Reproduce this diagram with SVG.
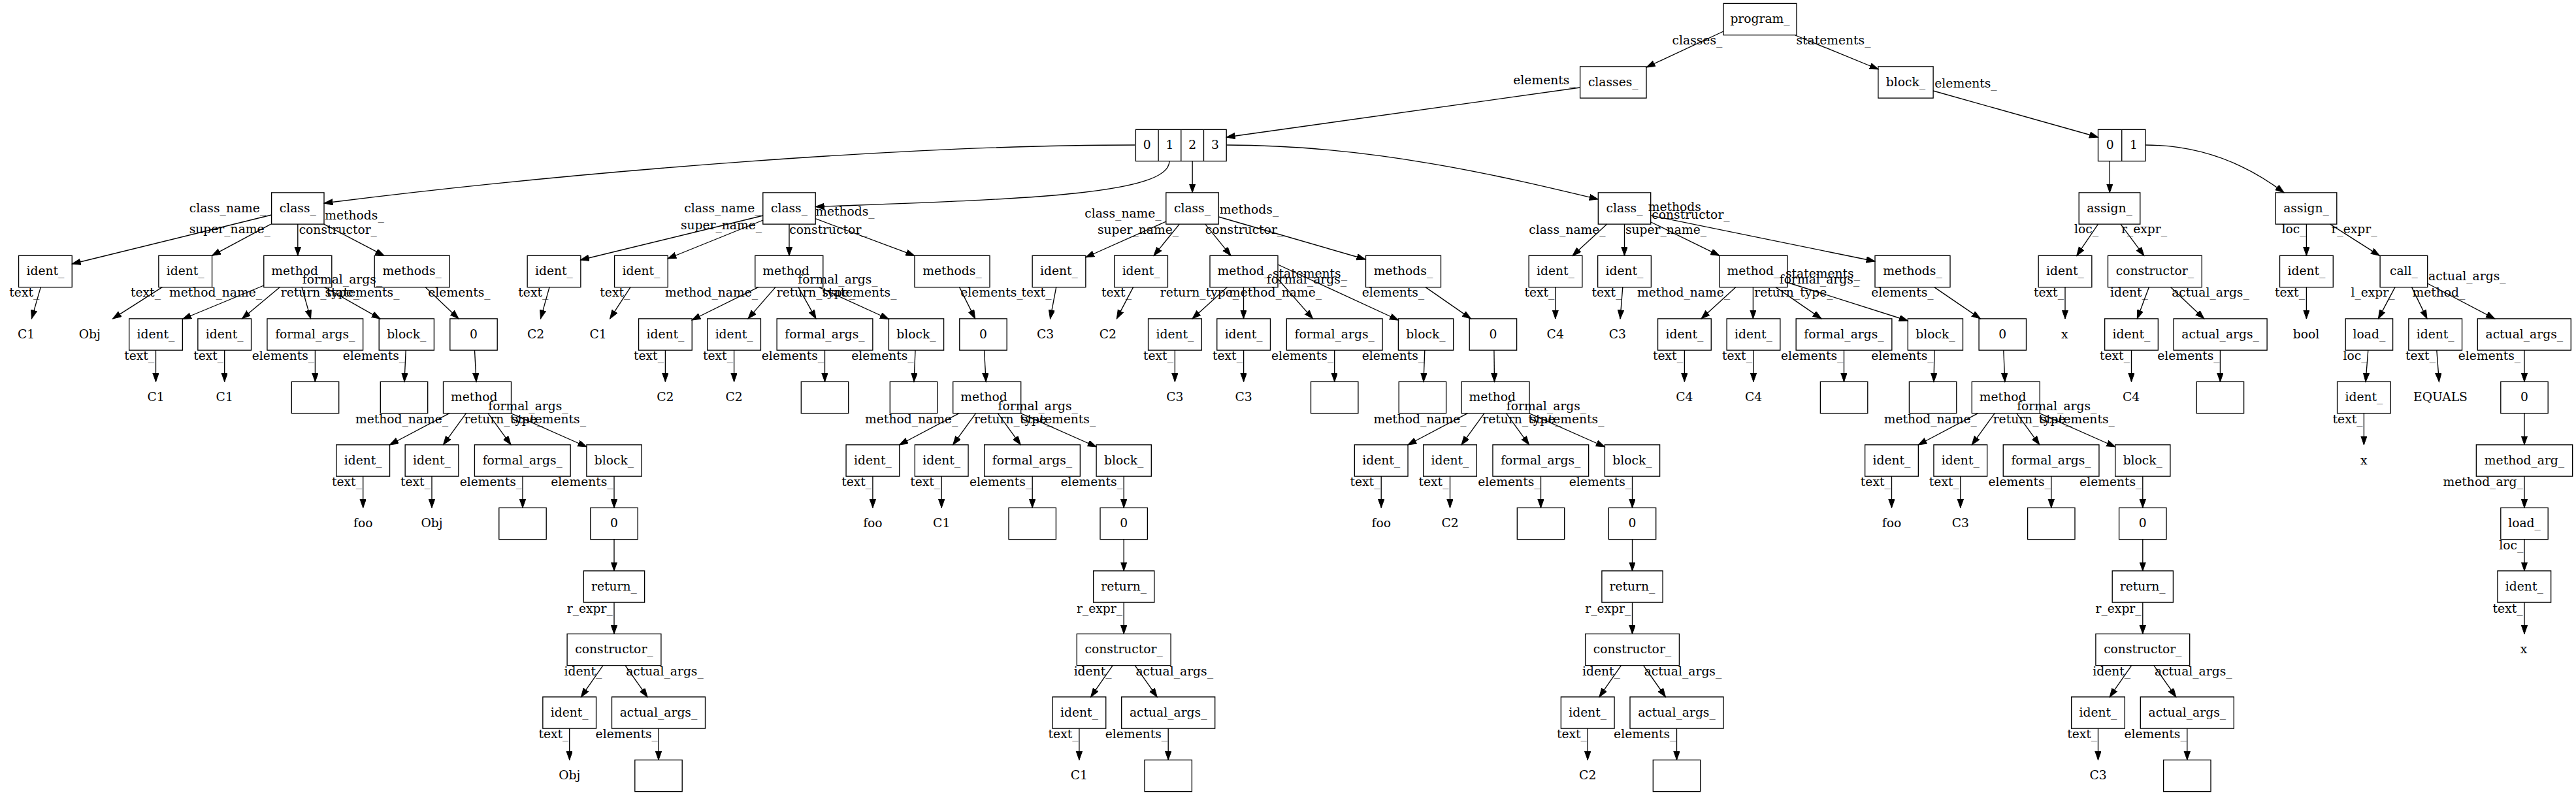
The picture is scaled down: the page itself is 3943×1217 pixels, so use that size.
<svg xmlns="http://www.w3.org/2000/svg" width="3943" height="1217" viewBox="0 0 3943 1217">
<defs>
<marker id="ah" markerUnits="userSpaceOnUse" markerWidth="15" markerHeight="11" refX="13.4" refY="4.7" orient="auto"><path d="M0,0 L13.4,4.7 L0,9.4 z" fill="#000" stroke="#000" stroke-width="1"/></marker>
<style>
.n rect{fill:#fff;stroke:#000;stroke-width:1.34}
.n line{stroke:#000;stroke-width:1.34}
text{font-family:"DejaVu Serif","Liberation Serif",serif;font-size:18.7px;text-anchor:middle;fill:#000}
#edges path{fill:none;stroke:#000;stroke-width:1.34;marker-end:url(#ah)}
</style>
</defs>
<rect x="0" y="0" width="3943" height="1217" fill="#fff"/>
<!-- top nodes -->
<g id="program" class="n"><rect x="2638" y="5.38" width="112" height="48.25"/><text x="2694" y="35">program_</text></g>
<g id="classes" class="n"><rect x="2418.6" y="101.88" width="101.4" height="48.25"/><text x="2469.3" y="131.5">classes_</text></g>
<g id="block_main" class="n"><rect x="2874.9" y="101.88" width="84.2" height="48.25"/><text x="2917" y="131.5">block_</text></g>
<g id="classes_arr" class="n"><rect x="1738.4" y="198.38" width="138.8" height="48.25"/><line x1="1773.1" y1="198.38" x2="1773.1" y2="246.63"/><line x1="1807.8" y1="198.38" x2="1807.8" y2="246.63"/><line x1="1842.5" y1="198.38" x2="1842.5" y2="246.63"/><text x="1755.75" y="228">0</text><text x="1790.45" y="228">1</text><text x="1825.15" y="228">2</text><text x="1859.85" y="228">3</text></g>
<g id="stmts_arr" class="n"><rect x="3211.5" y="198.38" width="72.5" height="48.25"/><line x1="3247.75" y1="198.38" x2="3247.75" y2="246.63"/><text x="3229.6" y="228">0</text><text x="3265.9" y="228">1</text></g>
<!-- C1 -->
<g id="c1_class" class="n"><rect x="415.6" y="294.88" width="80.4" height="48.25"/><text x="455.8" y="324.5">class_</text></g>
<g id="c1_ident_cn" class="n"><rect x="28.55" y="391.38" width="81.7" height="48.25"/><text x="69.4" y="421">ident_</text></g>
<g id="c1_ident_sn" class="n"><rect x="242.85" y="391.38" width="81.7" height="48.25"/><text x="283.7" y="421">ident_</text></g>
<g id="c1_ctor" class="n"><rect x="403.8" y="391.38" width="104" height="48.25"/><text x="455.8" y="421">method_</text></g>
<g id="c1_methods" class="n"><rect x="573.2" y="391.38" width="115" height="48.25"/><text x="630.7" y="421">methods_</text></g>
<g id="c1_t_cn"><text x="40" y="517.5">C1</text></g>
<g id="c1_t_sn"><text x="137.3" y="517.5">Obj</text></g>
<g id="c1_ct_mn" class="n"><rect x="197.65" y="487.88" width="81.7" height="48.25"/><text x="238.5" y="517.5">ident_</text></g>
<g id="c1_ct_rt" class="n"><rect x="302.85" y="487.88" width="81.7" height="48.25"/><text x="343.7" y="517.5">ident_</text></g>
<g id="c1_ct_fa" class="n"><rect x="408.95" y="487.88" width="146.7" height="48.25"/><text x="482.3" y="517.5">formal_args_</text></g>
<g id="c1_ct_bl" class="n"><rect x="580.2" y="487.88" width="84.2" height="48.25"/><text x="622.3" y="517.5">block_</text></g>
<g id="c1_ms_arr" class="n"><rect x="688.8" y="487.88" width="72.4" height="48.25"/><text x="725" y="517.5">0</text></g>
<g id="c1_ct_mn_t"><text x="238.5" y="614">C1</text></g>
<g id="c1_ct_rt_t"><text x="343.7" y="614">C1</text></g>
<g id="c1_ct_fa_arr" class="n"><rect x="446.3" y="584.38" width="72.4" height="48.25"/></g>
<g id="c1_ct_bl_arr" class="n"><rect x="582.3" y="584.38" width="72.4" height="48.25"/></g>
<g id="c1_m" class="n"><rect x="678.5" y="584.38" width="104" height="48.25"/><text x="730.5" y="614">method_</text></g>
<g id="c1_m_mn" class="n"><rect x="514.85" y="680.88" width="81.7" height="48.25"/><text x="555.7" y="710.5">ident_</text></g>
<g id="c1_m_rt" class="n"><rect x="620.15" y="680.88" width="81.7" height="48.25"/><text x="661" y="710.5">ident_</text></g>
<g id="c1_m_fa" class="n"><rect x="726.45" y="680.88" width="146.7" height="48.25"/><text x="799.8" y="710.5">formal_args_</text></g>
<g id="c1_m_bl" class="n"><rect x="897.9" y="680.88" width="84.2" height="48.25"/><text x="940" y="710.5">block_</text></g>
<g id="c1_m_foo"><text x="555.7" y="807">foo</text></g>
<g id="c1_m_rt_t"><text x="661" y="807">Obj</text></g>
<g id="c1_m_fa_arr" class="n"><rect x="763.8" y="777.38" width="72.4" height="48.25"/></g>
<g id="c1_m_bl_arr" class="n"><rect x="903.8" y="777.38" width="72.4" height="48.25"/><text x="940" y="807">0</text></g>
<g id="c1_m_ret" class="n"><rect x="893.4" y="873.88" width="93.2" height="48.25"/><text x="940" y="903.5">return_</text></g>
<g id="c1_m_ctor" class="n"><rect x="868.1" y="970.38" width="143.8" height="48.25"/><text x="940" y="1000">constructor_</text></g>
<g id="c1_m_cid" class="n"><rect x="830.85" y="1066.88" width="81.7" height="48.25"/><text x="871.7" y="1096.5">ident_</text></g>
<g id="c1_m_cargs" class="n"><rect x="936.5" y="1066.88" width="143" height="48.25"/><text x="1008" y="1096.5">actual_args_</text></g>
<g id="c1_m_cid_t"><text x="871.7" y="1193">Obj</text></g>
<g id="c1_m_cargs_arr" class="n"><rect x="971.8" y="1163.38" width="72.4" height="48.25"/></g>
<!-- C2 -->
<g id="c2_class" class="n"><rect x="1167.8" y="294.88" width="80.4" height="48.25"/><text x="1208" y="324.5">class_</text></g>
<g id="c2_ident_cn" class="n"><rect x="807.15" y="391.38" width="81.7" height="48.25"/><text x="848" y="421">ident_</text></g>
<g id="c2_ident_sn" class="n"><rect x="940.55" y="391.38" width="81.7" height="48.25"/><text x="981.4" y="421">ident_</text></g>
<g id="c2_ctor" class="n"><rect x="1155.8" y="391.38" width="104" height="48.25"/><text x="1207.8" y="421">method_</text></g>
<g id="c2_methods" class="n"><rect x="1400" y="391.38" width="115" height="48.25"/><text x="1457.5" y="421">methods_</text></g>
<g id="c2_t_cn"><text x="820" y="517.5">C2</text></g>
<g id="c2_t_sn"><text x="915.5" y="517.5">C1</text></g>
<g id="c2_ct_mn" class="n"><rect x="977.55" y="487.88" width="81.7" height="48.25"/><text x="1018.4" y="517.5">ident_</text></g>
<g id="c2_ct_rt" class="n"><rect x="1082.75" y="487.88" width="81.7" height="48.25"/><text x="1123.6" y="517.5">ident_</text></g>
<g id="c2_ct_fa" class="n"><rect x="1189.15" y="487.88" width="146.7" height="48.25"/><text x="1262.5" y="517.5">formal_args_</text></g>
<g id="c2_ct_bl" class="n"><rect x="1360.4" y="487.88" width="84.2" height="48.25"/><text x="1402.5" y="517.5">block_</text></g>
<g id="c2_ms_arr" class="n"><rect x="1468.8" y="487.88" width="72.4" height="48.25"/><text x="1505" y="517.5">0</text></g>
<g id="c2_ct_mn_t"><text x="1018.4" y="614">C2</text></g>
<g id="c2_ct_rt_t"><text x="1123.6" y="614">C2</text></g>
<g id="c2_ct_fa_arr" class="n"><rect x="1226.3" y="584.38" width="72.4" height="48.25"/></g>
<g id="c2_ct_bl_arr" class="n"><rect x="1362.3" y="584.38" width="72.4" height="48.25"/></g>
<g id="c2_m" class="n"><rect x="1458.7" y="584.38" width="104" height="48.25"/><text x="1510.7" y="614">method_</text></g>
<g id="c2_m_mn" class="n"><rect x="1295.05" y="680.88" width="81.7" height="48.25"/><text x="1335.9" y="710.5">ident_</text></g>
<g id="c2_m_rt" class="n"><rect x="1400.35" y="680.88" width="81.7" height="48.25"/><text x="1441.2" y="710.5">ident_</text></g>
<g id="c2_m_fa" class="n"><rect x="1506.65" y="680.88" width="146.7" height="48.25"/><text x="1580" y="710.5">formal_args_</text></g>
<g id="c2_m_bl" class="n"><rect x="1678.1" y="680.88" width="84.2" height="48.25"/><text x="1720.2" y="710.5">block_</text></g>
<g id="c2_m_foo"><text x="1335.9" y="807">foo</text></g>
<g id="c2_m_rt_t"><text x="1441.2" y="807">C1</text></g>
<g id="c2_m_fa_arr" class="n"><rect x="1544" y="777.38" width="72.4" height="48.25"/></g>
<g id="c2_m_bl_arr" class="n"><rect x="1684" y="777.38" width="72.4" height="48.25"/><text x="1720.2" y="807">0</text></g>
<g id="c2_m_ret" class="n"><rect x="1673.6" y="873.88" width="93.2" height="48.25"/><text x="1720.2" y="903.5">return_</text></g>
<g id="c2_m_ctor" class="n"><rect x="1648.3" y="970.38" width="143.8" height="48.25"/><text x="1720.2" y="1000">constructor_</text></g>
<g id="c2_m_cid" class="n"><rect x="1611.05" y="1066.88" width="81.7" height="48.25"/><text x="1651.9" y="1096.5">ident_</text></g>
<g id="c2_m_cargs" class="n"><rect x="1716.7" y="1066.88" width="143" height="48.25"/><text x="1788.2" y="1096.5">actual_args_</text></g>
<g id="c2_m_cid_t"><text x="1651.9" y="1193">C1</text></g>
<g id="c2_m_cargs_arr" class="n"><rect x="1752" y="1163.38" width="72.4" height="48.25"/></g>
<!-- C3 -->
<g id="c3_class" class="n"><rect x="1784.8" y="294.88" width="80.4" height="48.25"/><text x="1825" y="324.5">class_</text></g>
<g id="c3_ident_cn" class="n"><rect x="1580.15" y="391.38" width="81.7" height="48.25"/><text x="1621" y="421">ident_</text></g>
<g id="c3_ident_sn" class="n"><rect x="1705.75" y="391.38" width="81.7" height="48.25"/><text x="1746.6" y="421">ident_</text></g>
<g id="c3_ctor" class="n"><rect x="1852" y="391.38" width="104" height="48.25"/><text x="1904" y="421">method_</text></g>
<g id="c3_methods" class="n"><rect x="2090.5" y="391.38" width="115" height="48.25"/><text x="2148" y="421">methods_</text></g>
<g id="c3_t_cn"><text x="1600" y="517.5">C3</text></g>
<g id="c3_t_sn"><text x="1695.8" y="517.5">C2</text></g>
<g id="c3_ct_rt" class="n"><rect x="1757.55" y="487.88" width="81.7" height="48.25"/><text x="1798.4" y="517.5">ident_</text></g>
<g id="c3_ct_mn" class="n"><rect x="1862.75" y="487.88" width="81.7" height="48.25"/><text x="1903.6" y="517.5">ident_</text></g>
<g id="c3_ct_fa" class="n"><rect x="1969.35" y="487.88" width="146.7" height="48.25"/><text x="2042.7" y="517.5">formal_args_</text></g>
<g id="c3_ct_bl" class="n"><rect x="2140.4" y="487.88" width="84.2" height="48.25"/><text x="2182.5" y="517.5">block_</text></g>
<g id="c3_ms_arr" class="n"><rect x="2249.2" y="487.88" width="72.4" height="48.25"/><text x="2285.4" y="517.5">0</text></g>
<g id="c3_ct_rt_t"><text x="1798.4" y="614">C3</text></g>
<g id="c3_ct_mn_t"><text x="1903.6" y="614">C3</text></g>
<g id="c3_ct_fa_arr" class="n"><rect x="2006.5" y="584.38" width="72.4" height="48.25"/></g>
<g id="c3_ct_bl_arr" class="n"><rect x="2141.2" y="584.38" width="72.4" height="48.25"/></g>
<g id="c3_m" class="n"><rect x="2237" y="584.38" width="104" height="48.25"/><text x="2289" y="614">method_</text></g>
<g id="c3_m_mn" class="n"><rect x="2073.35" y="680.88" width="81.7" height="48.25"/><text x="2114.2" y="710.5">ident_</text></g>
<g id="c3_m_rt" class="n"><rect x="2178.65" y="680.88" width="81.7" height="48.25"/><text x="2219.5" y="710.5">ident_</text></g>
<g id="c3_m_fa" class="n"><rect x="2284.95" y="680.88" width="146.7" height="48.25"/><text x="2358.3" y="710.5">formal_args_</text></g>
<g id="c3_m_bl" class="n"><rect x="2456.4" y="680.88" width="84.2" height="48.25"/><text x="2498.5" y="710.5">block_</text></g>
<g id="c3_m_foo"><text x="2114.2" y="807">foo</text></g>
<g id="c3_m_rt_t"><text x="2219.5" y="807">C2</text></g>
<g id="c3_m_fa_arr" class="n"><rect x="2322.3" y="777.38" width="72.4" height="48.25"/></g>
<g id="c3_m_bl_arr" class="n"><rect x="2462.3" y="777.38" width="72.4" height="48.25"/><text x="2498.5" y="807">0</text></g>
<g id="c3_m_ret" class="n"><rect x="2451.9" y="873.88" width="93.2" height="48.25"/><text x="2498.5" y="903.5">return_</text></g>
<g id="c3_m_ctor" class="n"><rect x="2426.6" y="970.38" width="143.8" height="48.25"/><text x="2498.5" y="1000">constructor_</text></g>
<g id="c3_m_cid" class="n"><rect x="2389.35" y="1066.88" width="81.7" height="48.25"/><text x="2430.2" y="1096.5">ident_</text></g>
<g id="c3_m_cargs" class="n"><rect x="2495" y="1066.88" width="143" height="48.25"/><text x="2566.5" y="1096.5">actual_args_</text></g>
<g id="c3_m_cid_t"><text x="2430.2" y="1193">C2</text></g>
<g id="c3_m_cargs_arr" class="n"><rect x="2530.3" y="1163.38" width="72.4" height="48.25"/></g>
<!-- C4 -->
<g id="c4_class" class="n"><rect x="2446.3" y="294.88" width="80.4" height="48.25"/><text x="2486.5" y="324.5">class_</text></g>
<g id="c4_ident_cn" class="n"><rect x="2340.15" y="391.38" width="81.7" height="48.25"/><text x="2381" y="421">ident_</text></g>
<g id="c4_ident_sn" class="n"><rect x="2445.65" y="391.38" width="81.7" height="48.25"/><text x="2486.5" y="421">ident_</text></g>
<g id="c4_ctor" class="n"><rect x="2632" y="391.38" width="104" height="48.25"/><text x="2684" y="421">method_</text></g>
<g id="c4_methods" class="n"><rect x="2870" y="391.38" width="115" height="48.25"/><text x="2927.5" y="421">methods_</text></g>
<g id="c4_t_cn"><text x="2380.7" y="517.5">C4</text></g>
<g id="c4_t_sn"><text x="2475.8" y="517.5">C3</text></g>
<g id="c4_ct_mn" class="n"><rect x="2537.55" y="487.88" width="81.7" height="48.25"/><text x="2578.4" y="517.5">ident_</text></g>
<g id="c4_ct_rt" class="n"><rect x="2643.15" y="487.88" width="81.7" height="48.25"/><text x="2684" y="517.5">ident_</text></g>
<g id="c4_ct_fa" class="n"><rect x="2749.15" y="487.88" width="146.7" height="48.25"/><text x="2822.5" y="517.5">formal_args_</text></g>
<g id="c4_ct_bl" class="n"><rect x="2920.3" y="487.88" width="84.2" height="48.25"/><text x="2962.4" y="517.5">block_</text></g>
<g id="c4_ms_arr" class="n"><rect x="3029.1" y="487.88" width="72.4" height="48.25"/><text x="3065.3" y="517.5">0</text></g>
<g id="c4_ct_mn_t"><text x="2578.4" y="614">C4</text></g>
<g id="c4_ct_rt_t"><text x="2684" y="614">C4</text></g>
<g id="c4_ct_fa_arr" class="n"><rect x="2786.4" y="584.38" width="72.4" height="48.25"/></g>
<g id="c4_ct_bl_arr" class="n"><rect x="2922.4" y="584.38" width="72.4" height="48.25"/></g>
<g id="c4_m" class="n"><rect x="3018.3" y="584.38" width="104" height="48.25"/><text x="3070.3" y="614">method_</text></g>
<g id="c4_m_mn" class="n"><rect x="2854.65" y="680.88" width="81.7" height="48.25"/><text x="2895.5" y="710.5">ident_</text></g>
<g id="c4_m_rt" class="n"><rect x="2959.95" y="680.88" width="81.7" height="48.25"/><text x="3000.8" y="710.5">ident_</text></g>
<g id="c4_m_fa" class="n"><rect x="3066.25" y="680.88" width="146.7" height="48.25"/><text x="3139.6" y="710.5">formal_args_</text></g>
<g id="c4_m_bl" class="n"><rect x="3237.7" y="680.88" width="84.2" height="48.25"/><text x="3279.8" y="710.5">block_</text></g>
<g id="c4_m_foo"><text x="2895.5" y="807">foo</text></g>
<g id="c4_m_rt_t"><text x="3000.8" y="807">C3</text></g>
<g id="c4_m_fa_arr" class="n"><rect x="3103.6" y="777.38" width="72.4" height="48.25"/></g>
<g id="c4_m_bl_arr" class="n"><rect x="3243.6" y="777.38" width="72.4" height="48.25"/><text x="3279.8" y="807">0</text></g>
<g id="c4_m_ret" class="n"><rect x="3233.2" y="873.88" width="93.2" height="48.25"/><text x="3279.8" y="903.5">return_</text></g>
<g id="c4_m_ctor" class="n"><rect x="3207.9" y="970.38" width="143.8" height="48.25"/><text x="3279.8" y="1000">constructor_</text></g>
<g id="c4_m_cid" class="n"><rect x="3170.65" y="1066.88" width="81.7" height="48.25"/><text x="3211.5" y="1096.5">ident_</text></g>
<g id="c4_m_cargs" class="n"><rect x="3276.3" y="1066.88" width="143" height="48.25"/><text x="3347.8" y="1096.5">actual_args_</text></g>
<g id="c4_m_cid_t"><text x="3211.5" y="1193">C3</text></g>
<g id="c4_m_cargs_arr" class="n"><rect x="3311.6" y="1163.38" width="72.4" height="48.25"/></g>
<!-- statements side -->
<g id="assign1" class="n"><rect x="3182.2" y="294.88" width="93.6" height="48.25"/><text x="3229" y="324.5">assign_</text></g>
<g id="assign2" class="n"><rect x="3483.2" y="294.88" width="93.6" height="48.25"/><text x="3530" y="324.5">assign_</text></g>
<g id="a1_ident" class="n"><rect x="3120.15" y="391.38" width="81.7" height="48.25"/><text x="3161" y="421">ident_</text></g>
<g id="a1_ctor" class="n"><rect x="3226.5" y="391.38" width="143.8" height="48.25"/><text x="3298.4" y="421">constructor_</text></g>
<g id="a1_x"><text x="3160.2" y="517.5">x</text></g>
<g id="a1_ctor_ident" class="n"><rect x="3221.65" y="487.88" width="81.7" height="48.25"/><text x="3262.5" y="517.5">ident_</text></g>
<g id="a1_ctor_args" class="n"><rect x="3327.1" y="487.88" width="143" height="48.25"/><text x="3398.6" y="517.5">actual_args_</text></g>
<g id="a1_C4"><text x="3262" y="614">C4</text></g>
<g id="a1_args_arr" class="n"><rect x="3362.2" y="584.38" width="72.4" height="48.25"/></g>
<g id="a2_ident" class="n"><rect x="3489.55" y="391.38" width="81.7" height="48.25"/><text x="3530.4" y="421">ident_</text></g>
<g id="a2_call" class="n"><rect x="3643.1" y="391.38" width="72.6" height="48.25"/><text x="3679.4" y="421">call_</text></g>
<g id="a2_bool"><text x="3530" y="517.5">bool</text></g>
<g id="a2_load" class="n"><rect x="3590.2" y="487.88" width="72.4" height="48.25"/><text x="3626.4" y="517.5">load_</text></g>
<g id="a2_mident" class="n"><rect x="3686.85" y="487.88" width="81.7" height="48.25"/><text x="3727.7" y="517.5">ident_</text></g>
<g id="a2_args" class="n"><rect x="3792.3" y="487.88" width="143" height="48.25"/><text x="3863.8" y="517.5">actual_args_</text></g>
<g id="a2_load_ident" class="n"><rect x="3577.55" y="584.38" width="81.7" height="48.25"/><text x="3618.4" y="614">ident_</text></g>
<g id="a2_equals"><text x="3735.5" y="614">EQUALS</text></g>
<g id="a2_args_arr" class="n"><rect x="3827.8" y="584.38" width="72.4" height="48.25"/><text x="3864" y="614">0</text></g>
<g id="a2_x1"><text x="3618.2" y="710.5">x</text></g>
<g id="a2_marg" class="n"><rect x="3790.35" y="680.88" width="147.3" height="48.25"/><text x="3864" y="710.5">method_arg_</text></g>
<g id="a2_load2" class="n"><rect x="3827.8" y="777.38" width="72.4" height="48.25"/><text x="3864" y="807">load_</text></g>
<g id="a2_ident2" class="n"><rect x="3822.95" y="873.88" width="81.7" height="48.25"/><text x="3863.8" y="903.5">ident_</text></g>
<g id="a2_x2"><text x="3863" y="1000">x</text></g>
<g id="edges">
<!-- top -->
<path d="M2638,48 L2520,103"/><text x="2598" y="68">classes_</text>
<path d="M2748,54 L2875,106"/><text x="2806.5" y="68">statements_</text>
<path d="M2418.6,134 L1877.2,210"/><text x="2364" y="129.3">elements_</text>
<path d="M2959,139 L3211.5,210"/><text x="3009" y="134">elements_</text>
<path d="M1737,222 C1400,222 900,260 496,311"/>
<path d="M1790,246.6 C1790,300 1550,305 1248.2,316.5"/>
<path d="M1825.15,246.6 L1825.15,294.9"/>
<path d="M1877.2,222 C2100,222 2300,270 2446,305"/>
<path d="M3229.3,246.6 L3229.3,294.9"/>
<path d="M3284,222 C3380,222 3450,260 3496,294.9"/>
<!-- C1 class level -->
<path d="M415.6,329 L110.3,404"/><text x="348.5" y="325.3">class_name_</text>
<path d="M414.6,343.1 L324.5,391.4"/><text x="351.8" y="357">super_name_</text>
<path d="M455.8,343.1 L455.8,391.4"/><text x="517.3" y="358">constructor_</text>
<path d="M495.8,343.1 L588,391.4"/><text x="542.5" y="335.8">methods_</text>
<path d="M62.3,439.6 L48.4,487.9"/><text x="37.3" y="454.2">text_</text>
<path d="M248.3,439.6 L172.6,487.9"/><text x="223" y="454.2">text_</text>
<path d="M403.8,437 L279.5,488.5"/><text x="330" y="454.2">method_name_</text>
<path d="M428.5,439.6 L370.4,487.9"/><text x="490" y="454.2">return_type_</text>
<path d="M462,439.6 L475.6,487.9"/><text x="524" y="434">formal_args_</text>
<path d="M496.6,439.6 L582,487.9"/><text x="554.5" y="454.2">statements_</text>
<path d="M651,439.6 L702,487.9"/><text x="703" y="454.2">elements_</text>
<path d="M238.5,536.1 L238.5,584.4"/><text x="213.2" y="551">text_</text>
<path d="M343.7,536.1 L343.7,584.4"/><text x="319.2" y="551">text_</text>
<path d="M482.4,536.1 L482.4,584.4"/><text x="433.5" y="551">elements_</text>
<path d="M621.2,536.1 L619,584.4"/><text x="572.5" y="551">elements_</text>
<!-- C2 class level -->
<path d="M1168,330 L888.5,398"/><text x="1106" y="325.3">class_name_</text>
<path d="M1168,337 L1022,396"/><text x="1104" y="351.3">super_name_</text>
<path d="M1208,343.1 L1208,391.4"/><text x="1268" y="358">constructor_</text>
<path d="M1248,334.7 L1400,391.4"/><text x="1293.4" y="330">methods_</text>
<path d="M841,439.6 L827.5,487.9"/><text x="816.3" y="454.2">text_</text>
<path d="M965,439.6 L933.6,487.9"/><text x="941.3" y="454.2">text_</text>
<path d="M1160.8,439.6 L1059,490"/><text x="1089" y="454.2">method_name_</text>
<path d="M1187,439.6 L1145,487.9"/><text x="1249" y="454.2">return_type_</text>
<path d="M1222,439.6 L1249,487.9"/><text x="1282.5" y="434">formal_args_</text>
<path d="M1253.4,439.6 L1360.4,488.5"/><text x="1315.5" y="454.2">statements_</text>
<path d="M1468.6,439.6 L1492.6,487.9"/><text x="1518" y="454.2">elements_</text>
<path d="M1018.4,536.1 L1018.4,584.4"/><text x="993" y="551">text_</text>
<path d="M1123.6,536.1 L1123.6,584.4"/><text x="1099" y="551">text_</text>
<path d="M1262.5,536.1 L1262.5,584.4"/><text x="1213.5" y="551">elements_</text>
<path d="M1401,536.1 L1399,584.4"/><text x="1351" y="551">elements_</text>
<!-- C3 class level -->
<path d="M1785,339 L1661.8,394"/><text x="1719" y="333">class_name_</text>
<path d="M1805.3,343.1 L1766,391.4"/><text x="1742" y="358">super_name_</text>
<path d="M1844.8,343.1 L1884,391.4"/><text x="1904.5" y="358">constructor_</text>
<path d="M1865.5,332 L2090,397"/><text x="1912" y="326.5">methods_</text>
<path d="M1616.7,439.6 L1607.5,487.9"/><text x="1586.5" y="454.2">text_</text>
<path d="M1734.6,439.6 L1709.3,487.9"/><text x="1709" y="454.2">text_</text>
<path d="M1878.5,439.6 L1825,487.9"/><text x="1836" y="454.2">return_type_</text>
<path d="M1903.5,439.6 L1903.5,487.9"/><text x="1952" y="454.2">method_name_</text>
<path d="M1956,427 L2009.5,487.9"/><text x="2000" y="434">formal_args_</text>
<path d="M1956,405 L2140.4,490"/><text x="2005" y="425">statements_</text>
<path d="M2182,439.6 L2251.5,487.9"/><text x="2132.5" y="454.2">elements_</text>
<path d="M1798.4,536.1 L1798.4,584.4"/><text x="1773" y="551">text_</text>
<path d="M1903.6,536.1 L1903.6,584.4"/><text x="1879" y="551">text_</text>
<path d="M2042.7,536.1 L2042.7,584.4"/><text x="1993.6" y="551">elements_</text>
<path d="M2180.8,536.1 L2179,584.4"/><text x="2132.5" y="551">elements_</text>
<!-- C4 class level -->
<path d="M2459.8,343.1 L2407,391.4"/><text x="2399" y="358">class_name_</text>
<path d="M2486.5,343.1 L2486.5,391.4"/><text x="2550" y="358">super_name_</text>
<path d="M2527,340 L2632,391.4"/><text x="2588" y="334.6">constructor_</text>
<path d="M2527,330 L2870,400"/><text x="2568" y="323.4">methods_</text>
<path d="M2380.8,439.6 L2380.8,487.9"/><text x="2356.4" y="454.2">text_</text>
<path d="M2483.8,439.6 L2480,487.9"/><text x="2459.5" y="454.2">text_</text>
<path d="M2657,439.6 L2604,487.9"/><text x="2577" y="454.2">method_name_</text>
<path d="M2683.4,439.6 L2683.4,487.9"/><text x="2745.5" y="454.2">return_type_</text>
<path d="M2718,439.6 L2788,487.9"/><text x="2785" y="434">formal_args_</text>
<path d="M2734.7,432 L2920.3,491"/><text x="2790" y="425">statements_</text>
<path d="M2960.7,439.6 L3031.4,487.9"/><text x="2912" y="454.2">elements_</text>
<path d="M2578.4,536.1 L2578.4,584.4"/><text x="2553" y="551">text_</text>
<path d="M2684,536.1 L2684,584.4"/><text x="2659" y="551">text_</text>
<path d="M2822.5,536.1 L2822.5,584.4"/><text x="2773.7" y="551">elements_</text>
<path d="M2961,536.1 L2960,584.4"/><text x="2912" y="551">elements_</text>
<!-- method subtrees: C1 -->
<path d="M726.5,536.1 L729,584.4"/>
<path d="M688,632.6 L596.4,681"/><text x="615" y="648">method_name_</text>
<path d="M713.5,632.6 L678.5,680.9"/><text x="771" y="648">return_type_</text>
<path d="M747,632.6 L782,680.9"/><text x="808.5" y="628">formal_args_</text>
<path d="M782,632.6 L897.9,684"/><text x="840" y="648">statements_</text>
<path d="M555.7,729.1 L555.7,777.4"/><text x="531" y="744">text_</text>
<path d="M661,729.1 L661,777.4"/><text x="636" y="744">text_</text>
<path d="M800,729.1 L800,777.4"/><text x="751.4" y="744">elements_</text>
<path d="M940,729.1 L940,777.4"/><text x="891" y="744">elements_</text>
<path d="M940,825.6 L940,873.9"/>
<path d="M940,922.1 L940,970.4"/><text x="902.8" y="938.4">r_expr_</text>
<path d="M923,1018.6 L889.4,1066.9"/><text x="892.4" y="1034">ident_</text>
<path d="M957,1018.6 L991,1066.9"/><text x="1017.5" y="1034">actual_args_</text>
<path d="M871.7,1115.1 L871.7,1163.4"/><text x="847.4" y="1130">text_</text>
<path d="M1008,1115.1 L1008,1163.4"/><text x="959.3" y="1130">elements_</text>
<!-- C2 -->
<path d="M1506.5,536.1 L1509.2,584.4"/>
<path d="M1468.2,632.6 L1376.6,681"/><text x="1395.2" y="648">method_name_</text>
<path d="M1493.7,632.6 L1458.7,680.9"/><text x="1551.2" y="648">return_type_</text>
<path d="M1527.2,632.6 L1562.2,680.9"/><text x="1588.7" y="628">formal_args_</text>
<path d="M1562.2,632.6 L1678.1,684"/><text x="1620.2" y="648">statements_</text>
<path d="M1335.9,729.1 L1335.9,777.4"/><text x="1311.2" y="744">text_</text>
<path d="M1441.2,729.1 L1441.2,777.4"/><text x="1416.2" y="744">text_</text>
<path d="M1580.2,729.1 L1580.2,777.4"/><text x="1531.6" y="744">elements_</text>
<path d="M1720.2,729.1 L1720.2,777.4"/><text x="1671.2" y="744">elements_</text>
<path d="M1720.2,825.6 L1720.2,873.9"/>
<path d="M1720.2,922.1 L1720.2,970.4"/><text x="1683" y="938.4">r_expr_</text>
<path d="M1703.2,1018.6 L1669.6,1066.9"/><text x="1672.6" y="1034">ident_</text>
<path d="M1737.2,1018.6 L1771.2,1066.9"/><text x="1797.7" y="1034">actual_args_</text>
<path d="M1651.9,1115.1 L1651.9,1163.4"/><text x="1627.6" y="1130">text_</text>
<path d="M1788.2,1115.1 L1788.2,1163.4"/><text x="1739.5" y="1130">elements_</text>
<!-- C3 -->
<path d="M2286.9,536.1 L2287.5,584.4"/>
<path d="M2246.5,632.6 L2154.9,681"/><text x="2173.5" y="648">method_name_</text>
<path d="M2272,632.6 L2237,680.9"/><text x="2329.5" y="648">return_type_</text>
<path d="M2305.5,632.6 L2340.5,680.9"/><text x="2367" y="628">formal_args_</text>
<path d="M2340.5,632.6 L2456.4,684"/><text x="2398.5" y="648">statements_</text>
<path d="M2114.2,729.1 L2114.2,777.4"/><text x="2089.5" y="744">text_</text>
<path d="M2219.5,729.1 L2219.5,777.4"/><text x="2194.5" y="744">text_</text>
<path d="M2358.5,729.1 L2358.5,777.4"/><text x="2309.9" y="744">elements_</text>
<path d="M2498.5,729.1 L2498.5,777.4"/><text x="2449.5" y="744">elements_</text>
<path d="M2498.5,825.6 L2498.5,873.9"/>
<path d="M2498.5,922.1 L2498.5,970.4"/><text x="2461.3" y="938.4">r_expr_</text>
<path d="M2481.5,1018.6 L2447.9,1066.9"/><text x="2450.9" y="1034">ident_</text>
<path d="M2515.5,1018.6 L2549.5,1066.9"/><text x="2576" y="1034">actual_args_</text>
<path d="M2430.2,1115.1 L2430.2,1163.4"/><text x="2405.9" y="1130">text_</text>
<path d="M2566.5,1115.1 L2566.5,1163.4"/><text x="2517.8" y="1130">elements_</text>
<!-- C4 -->
<path d="M3066.8,536.1 L3068.8,584.4"/>
<path d="M3027.8,632.6 L2936.2,681"/><text x="2954.8" y="648">method_name_</text>
<path d="M3053.3,632.6 L3018.3,680.9"/><text x="3110.8" y="648">return_type_</text>
<path d="M3086.8,632.6 L3121.8,680.9"/><text x="3148.3" y="628">formal_args_</text>
<path d="M3121.8,632.6 L3237.7,684"/><text x="3179.8" y="648">statements_</text>
<path d="M2895.5,729.1 L2895.5,777.4"/><text x="2870.8" y="744">text_</text>
<path d="M3000.8,729.1 L3000.8,777.4"/><text x="2975.8" y="744">text_</text>
<path d="M3139.8,729.1 L3139.8,777.4"/><text x="3091.2" y="744">elements_</text>
<path d="M3279.8,729.1 L3279.8,777.4"/><text x="3230.8" y="744">elements_</text>
<path d="M3279.8,825.6 L3279.8,873.9"/>
<path d="M3279.8,922.1 L3279.8,970.4"/><text x="3242.6" y="938.4">r_expr_</text>
<path d="M3262.8,1018.6 L3229.2,1066.9"/><text x="3232.2" y="1034">ident_</text>
<path d="M3296.8,1018.6 L3330.8,1066.9"/><text x="3357.3" y="1034">actual_args_</text>
<path d="M3211.5,1115.1 L3211.5,1163.4"/><text x="3187.2" y="1130">text_</text>
<path d="M3347.8,1115.1 L3347.8,1163.4"/><text x="3299.1" y="1130">elements_</text>
<!-- statements side -->
<path d="M3211.5,343.1 L3178.7,391.4"/><text x="3193.5" y="357">loc_</text>
<path d="M3246,343.1 L3281.8,391.4"/><text x="3282" y="357">r_expr_</text>
<path d="M3161,439.6 L3161,487.9"/><text x="3136" y="454.2">text_</text>
<path d="M3289.4,439.6 L3271.3,487.9"/><text x="3259" y="454.2">ident_</text>
<path d="M3322.5,439.6 L3373.8,487.9"/><text x="3383.5" y="454.2">actual_args_</text>
<path d="M3262.5,536.1 L3262.5,584.4"/><text x="3237" y="551">text_</text>
<path d="M3398.4,536.1 L3398.4,584.4"/><text x="3350" y="551">elements_</text>
<path d="M3530.4,343.1 L3530.4,391.4"/><text x="3511" y="357">loc_</text>
<path d="M3566.5,343.1 L3642.4,391.4"/><text x="3603.5" y="357">r_expr_</text>
<path d="M3530.4,439.6 L3530.4,487.9"/><text x="3505" y="454.2">text_</text>
<path d="M3666,439.6 L3640.4,487.9"/><text x="3632" y="454.2">l_expr_</text>
<path d="M3691.6,439.6 L3715,487.9"/><text x="3733" y="454.2">method_</text>
<path d="M3715.8,434 L3818.7,487.9"/><text x="3776.3" y="429">actual_args_</text>
<path d="M3624.8,536.1 L3621,584.4"/><text x="3605" y="551">loc_</text>
<path d="M3729.8,536.1 L3733.4,584.4"/><text x="3705" y="551">text_</text>
<path d="M3864,536.1 L3864,584.4"/><text x="3810.5" y="551">elements_</text>
<path d="M3618.4,632.6 L3618.4,680.9"/><text x="3593.6" y="648">text_</text>
<path d="M3864,632.6 L3864,680.9"/>
<path d="M3864,729.1 L3864,777.4"/><text x="3800.7" y="744">method_arg_</text>
<path d="M3864,825.6 L3864,873.9"/><text x="3843.8" y="841">loc_</text>
<path d="M3864,922.1 L3864,970.4"/><text x="3838.6" y="938">text_</text>
</g>
</svg>
